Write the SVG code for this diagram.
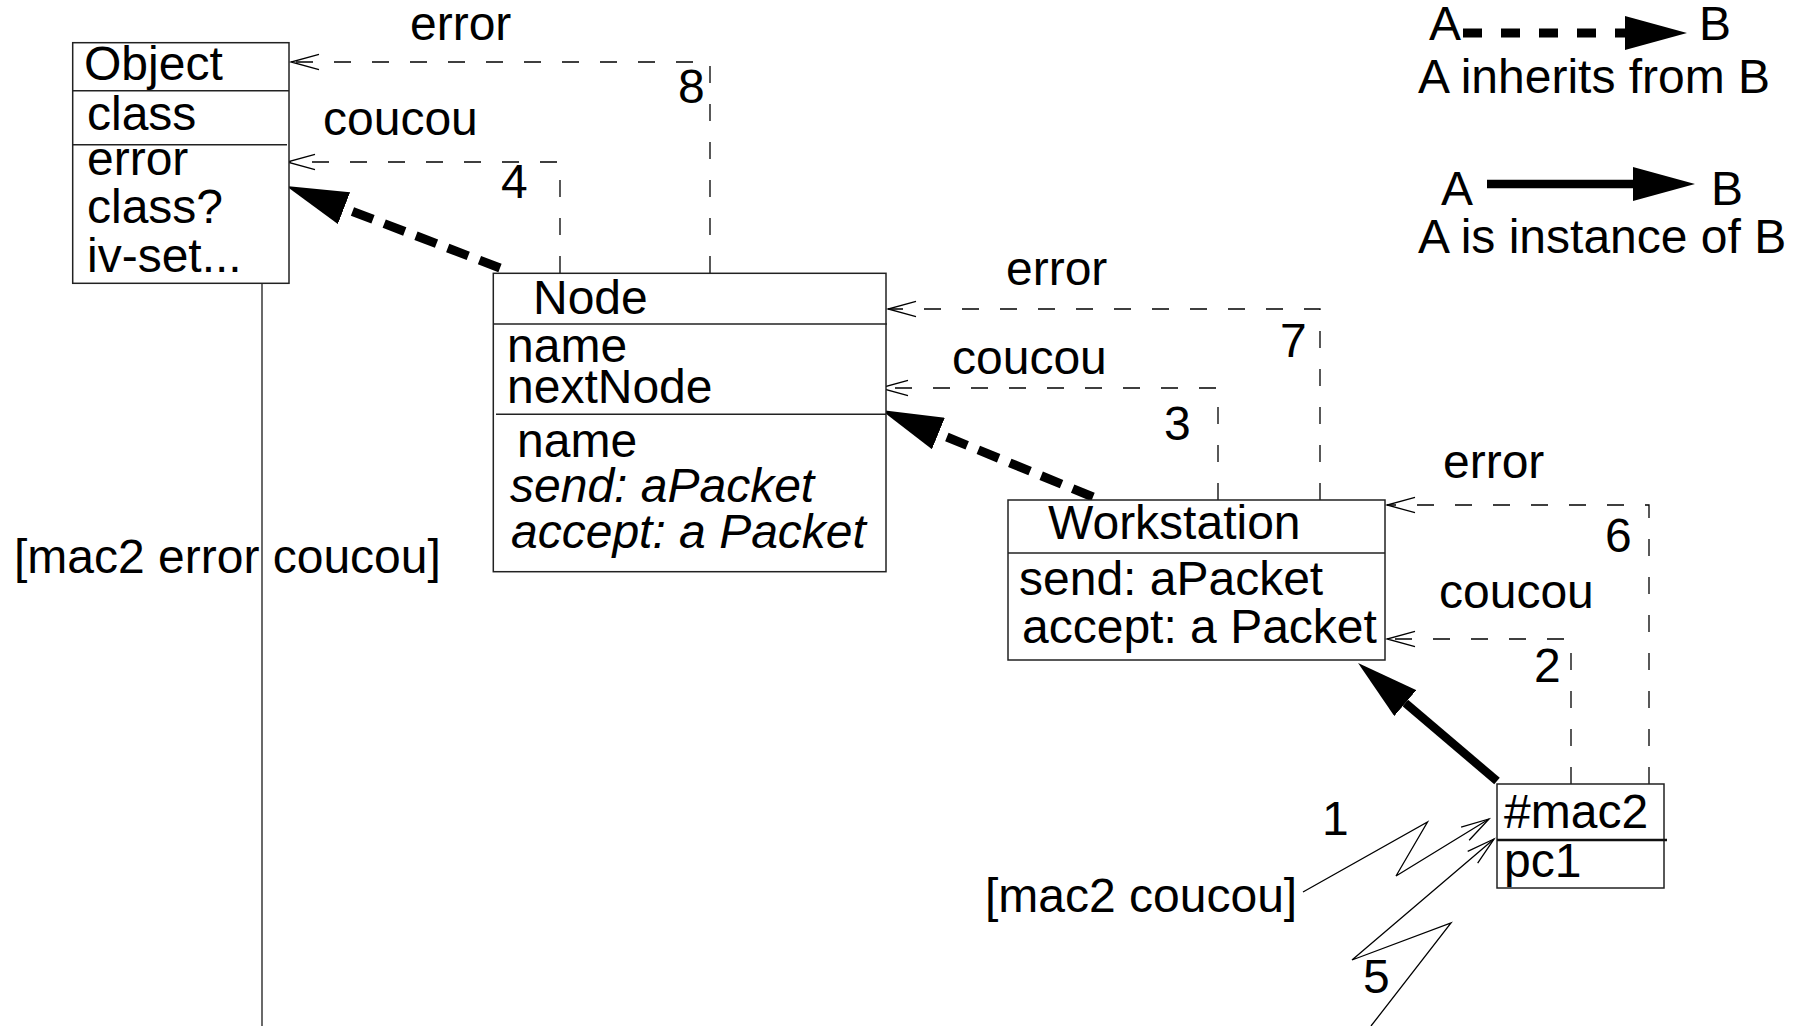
<svg xmlns="http://www.w3.org/2000/svg" width="1805" height="1026" viewBox="0 0 1805 1026">
<style>
text{font-family:"Liberation Sans",Arial,sans-serif;font-size:48px;fill:#000}
.it{font-style:italic}
.box{fill:#fff;stroke:#222;stroke-width:1.5}
.div{stroke:#222;stroke-width:1.5}
.msg{fill:none;stroke:#000;stroke-width:1.3;stroke-dasharray:17 21}
.zig{fill:none;stroke:#000;stroke-width:1.3}
.inh{fill:none;stroke:#000;stroke-width:9;stroke-dasharray:22 12}
.inhl{fill:none;stroke:#000;stroke-width:9;stroke-dasharray:19 19}
.ins{fill:none;stroke:#000;stroke-width:8.5}
</style>
<defs>
<marker id="open" markerUnits="userSpaceOnUse" markerWidth="32" markerHeight="20" viewBox="0 0 32 20" refX="29" refY="10" orient="auto">
<path d="M1,2.3 L29,10 L1,17.7" fill="none" stroke="#000" stroke-width="1.3"/>
</marker>
<marker id="head" markerUnits="userSpaceOnUse" markerWidth="62" markerHeight="34" viewBox="0 0 62 34" refX="0" refY="17" orient="auto">
<path d="M0,0 L62,17 L0,34 z" fill="#000"/>
</marker>
</defs>

<g id="connectors">
<line x1="262" y1="284" x2="262" y2="1026" stroke="#444" stroke-width="1.6"/>
<path class="msg" d="M710,273 V62 H291" marker-end="url(#open)"/>
<path class="msg" d="M560,273 V162 H287" marker-end="url(#open)"/>
<path class="msg" d="M1320,500 V309 H888" marker-end="url(#open)"/>
<path class="msg" d="M1218,500 V388 H880" marker-end="url(#open)"/>
<path class="msg" d="M1649,784 V505 H1387" marker-end="url(#open)"/>
<path class="msg" d="M1571,784 V639 H1387" marker-end="url(#open)"/>
<path class="inh" d="M500,268 L344,208.2" marker-end="url(#head)"/>
<path class="inh" d="M1093,497 L938.4,433.5" marker-end="url(#head)"/>
<path class="ins" d="M1497,781 L1405.3,703.1" marker-end="url(#head)"/>
<path class="zig" d="M1303,892 L1427.5,822 L1396,876 L1489,819" marker-end="url(#open)"/>
<path class="zig" d="M1371,1026 L1451,923 L1352,960 L1494,839" marker-end="url(#open)"/>
<text x="410" y="40">error</text>
<text x="678" y="103">8</text>
<text x="323" y="135">coucou</text>
<text x="501" y="198">4</text>
<text x="1006" y="285">error</text>
<text x="1280" y="357">7</text>
<text x="952" y="374">coucou</text>
<text x="1164" y="440">3</text>
<text x="1443" y="478">error</text>
<text x="1605" y="552">6</text>
<text x="1439" y="608">coucou</text>
<text x="1534" y="682">2</text>
<text x="1322" y="835">1</text>
<text x="1363" y="993">5</text>
<text x="985" y="912">[mac2 coucou]</text>
<text x="14" y="573">[mac2 error coucou]</text>
</g>

<g id="object">
<rect class="box" x="72.7" y="42.7" width="216.3" height="240.6"/>
<line class="div" x1="72.7" y1="90.7" x2="289" y2="90.7"/>
<line class="div" x1="72.7" y1="144.7" x2="287" y2="144.7"/>
<text x="84" y="80">Object</text>
<text x="87" y="130">class</text>
<text x="87" y="175">error</text>
<text x="87" y="223">class?</text>
<text x="87" y="272">iv-set...</text>
</g>

<g id="node">
<rect class="box" x="493.3" y="273.3" width="392.7" height="298.4"/>
<line class="div" x1="493.3" y1="324" x2="887" y2="324"/>
<line class="div" x1="496" y1="414.3" x2="886" y2="414.3"/>
<text x="533" y="314">Node</text>
<text x="507" y="362">name</text>
<text x="507" y="403">nextNode</text>
<text x="517" y="457">name</text>
<text class="it" x="510" y="502">send: aPacket</text>
<text class="it" x="511" y="548">accept: a Packet</text>
</g>

<g id="workstation">
<rect class="box" x="1008" y="500" width="377" height="160"/>
<line class="div" x1="1008" y1="553" x2="1385" y2="553"/>
<text x="1048" y="539">Workstation</text>
<text x="1019" y="595">send: aPacket</text>
<text x="1022" y="643">accept: a Packet</text>
</g>

<g id="mac2">
<rect class="box" x="1497" y="784" width="167" height="104"/>
<line x1="1497" y1="840" x2="1667" y2="840" stroke="#111" stroke-width="2.5"/>
<text x="1504" y="828">#mac2</text>
<text x="1504" y="877">pc1</text>
</g>

<g id="legend">
<text x="1429" y="40">A</text>
<path class="inhl" d="M1463,33 L1625,33" marker-end="url(#head)"/>
<text x="1699" y="40">B</text>
<text x="1418" y="93">A inherits from B</text>
<text x="1441" y="205">A</text>
<path class="ins" d="M1487,184 L1633,184" marker-end="url(#head)"/>
<text x="1711" y="205">B</text>
<text x="1418" y="253">A is instance of B</text>
</g>
</svg>
